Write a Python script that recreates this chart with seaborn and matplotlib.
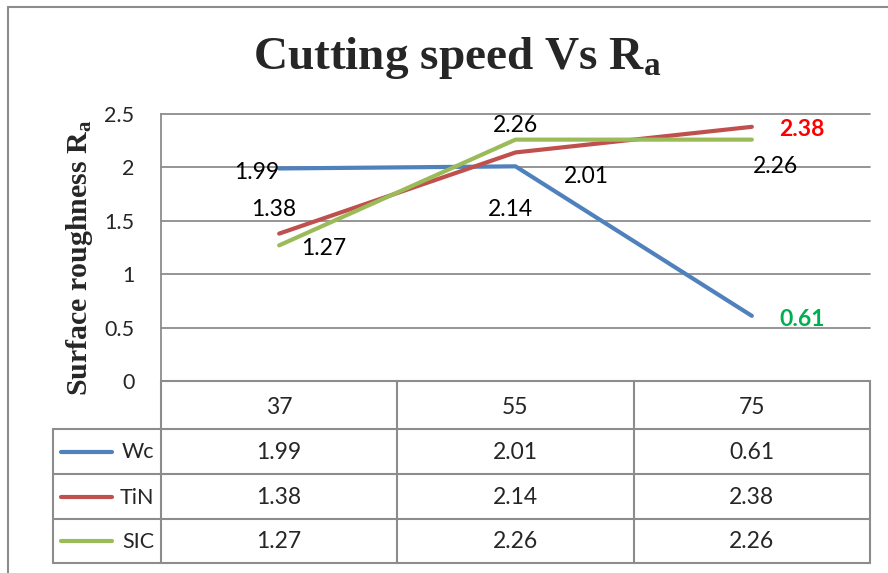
import numpy as np
import pandas as pd
import seaborn as sns
import matplotlib.pyplot as plt
from matplotlib.transforms import blended_transform_factory

# data
speeds = ["37", "55", "75"]
tools = ["Wc", "TiN", "SIC"]
wc = [1.99, 2.01, 0.61]
tin = [1.38, 2.14, 2.38]
sic = [1.27, 2.26, 2.26]
y_ticks = [0, 0.5, 1, 1.5, 2, 2.5]

colors = ["#4F81BD", "#C0504D", "#9BBB59"]
series = [wc, tin, sic]

df = pd.DataFrame({"speed": speeds * 3,
                   "Ra": wc + tin + sic,
                   "tool": np.repeat(tools, len(speeds))})

sns.set_style("white")
plt.rcParams["font.family"] = ["Lato", "DejaVu Sans"]
plt.rcParams["mathtext.fontset"] = "custom"
plt.rcParams["mathtext.rm"] = "Liberation Serif:bold"
plt.rcParams["mathtext.it"] = "Liberation Serif:bold"
plt.rcParams["mathtext.bf"] = "Liberation Serif:bold"

fs = 16.5
W, H = 888, 573
fig = plt.figure(figsize=(W / 100, H / 100), dpi=100)

# overlay in pixel coords for the frame and the data table
ov = fig.add_axes([0, 0, 1, 1], zorder=0)
ov.set_xlim(0, W)
ov.set_ylim(H, 0)
ov.axis("off")

L, R, T, B = 161, 870, 114, 381
ax = fig.add_axes([L / W, 1 - B / H, (R - L) / W, (B - T) / H], zorder=1)
ax.patch.set_alpha(0)

sns.lineplot(data=df, x="speed", y="Ra", hue="tool", palette=colors,
             linewidth=3.0, legend=False, ax=ax, sort=False,
             solid_capstyle="round")
ax.set_xlim(-0.5, 2.5)
ax.set_ylim(0, 2.5)
ax.set_yticks(y_ticks)
ax.set_yticklabels([f"{t:g}" for t in y_ticks])
ax.tick_params(axis="y", length=0, pad=19, labelsize=15.5)
ax.set_xticks([])
ax.set_xlabel("")
ax.set_ylabel("")
ax.grid(axis="y", color="#8c8c8c", linewidth=1.3)
for gl in ax.get_ygridlines():
    gl.set_clip_on(False)
for s in ["top", "right", "bottom"]:
    ax.spines[s].set_visible(False)
ax.spines["left"].set_color("#8c8c8c")
ax.spines["left"].set_linewidth(1.3)

# data labels (pixel offsets from each point)
offsets = {
    "Wc": [(-22, -4), (71, -10), (50, -4)],
    "TiN": [(-5, 24), (-5, -57), (50, -3)],
    "SIC": [(45, -3), (0, 14), (24, -27)],
}
special = {("TiN", 2): ("#FF0000", "bold"), ("Wc", 2): ("#00B050", "bold")}
for name, vals in zip(tools, series):
    for i, v in enumerate(vals):
        col, wt = special.get((name, i), ("black", "normal"))
        ax.annotate(f"{v:.2f}", (i, v), xytext=offsets[name][i],
                    textcoords="offset pixels", ha="center", va="center",
                    fontsize=fs, color=col, weight=wt, annotation_clip=False)

# outer chart frame
ov.plot([8, 8], [7, H], color="#8c8c8c", lw=1.5)
ov.plot([8, W], [7, 7], color="#8c8c8c", lw=1.5)

# data table
gc = "#8c8c8c"
rows = [381, 429, 474, 519, 563]
cols = [L + k * (R - L) / 3 for k in range(4)]
leg_x0 = 53
ov.plot([L, R], [rows[0], rows[0]], color=gc, lw=1.5)
for y in rows[1:]:
    ov.plot([leg_x0, R], [y, y], color=gc, lw=1.5)
for x in cols:
    ov.plot([x, x], [rows[0], rows[-1]], color=gc, lw=1.5)
ov.plot([leg_x0, leg_x0], [rows[1], rows[-1]], color=gc, lw=1.5)

tr = blended_transform_factory(ax.transData, ov.transData)
for i, sp in enumerate(speeds):
    ov.text(i, (rows[0] + rows[1]) / 2 + 3, sp, transform=tr,
            ha="center", va="center", fontsize=fs)
for r, (name, vals, c) in enumerate(zip(tools, series, colors)):
    yc = (rows[r + 1] + rows[r + 2]) / 2 + 1
    for i, v in enumerate(vals):
        ov.text(i, yc, f"{v:.2f}", transform=tr, ha="center", va="center",
                fontsize=fs)
    ov.plot([61, 112], [yc - 1, yc - 1], color=c, lw=3, solid_capstyle="round")
    ov.text(154, yc, name, ha="right", va="center", fontsize=15.5)

# titles
fig.text(457 / W, 1 - 58 / H, r"Cutting speed Vs R$_{a}$", fontsize=34,
         family="Liberation Serif", weight="bold", ha="center", va="center")
fig.text(80 / W, 1 - 258 / H, r"Surface roughness R$_{a}$", rotation=90,
         fontsize=21.5, family="Liberation Serif", weight="bold",
         ha="center", va="center")

fig.savefig("out.png", dpi=100)
